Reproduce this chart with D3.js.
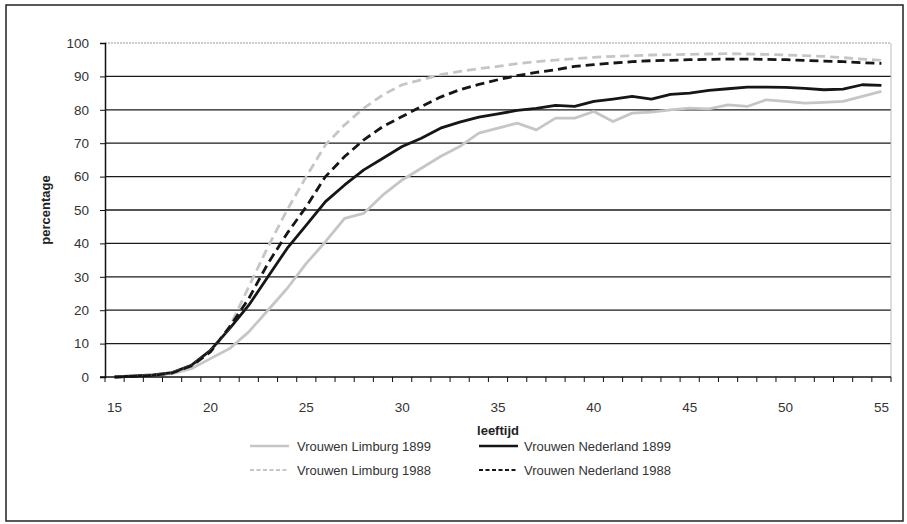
<!DOCTYPE html>
<html>
<head>
<meta charset="utf-8">
<script src="https://cdn.jsdelivr.net/npm/d3@7"></script>
<style>
  html, body { margin: 0; padding: 0; background: #fff; }
  svg text { font-family: "Liberation Sans", Arial, sans-serif; }
</style>
</head>
<body>
<svg id="chart" width="907" height="524"></svg>
<script>
const ages = d3.range(15, 56);
const xTickLabels = [15, 20, 25, 30, 35, 40, 45, 50, 55];
const yTicks = [0, 10, 20, 30, 40, 50, 60, 70, 80, 90, 100];

const limburg1899 = [0, 0.2, 0.5, 1, 2.5, 5.5, 8.5, 13.5, 20, 26.5, 34, 40.5, 47.5, 49, 54.5, 59, 62.5, 66, 69, 73, 74.5, 76, 74, 77.5, 77.5, 79.5, 76.5, 79, 79.3, 80, 80.5, 80.3, 81.5, 81, 83, 82.5, 82, 82.2, 82.5, 84, 85.5];
const nederland1899 = [0, 0.3, 0.6, 1.3, 3.5, 8, 14.5, 21.5, 30, 38.5, 45.5, 52.5, 57.5, 62, 65.5, 69, 71.5, 74.5, 76.3, 77.8, 78.8, 79.8, 80.4, 81.3, 81, 82.5, 83.2, 84, 83.2, 84.6, 85, 85.8, 86.3, 86.8, 86.8, 86.7, 86.4, 86, 86.2, 87.5, 87.3];
const limburg1988 = [0, 0.2, 0.5, 1.2, 3.2, 7.5, 15, 27, 39, 50, 60, 69.5, 75.5, 80.5, 84.5, 87.5, 89, 90.5, 91.5, 92.3, 93, 93.8, 94.4, 94.9, 95.3, 95.7, 96, 96.2, 96.4, 96.5, 96.6, 96.7, 96.8, 96.7, 96.6, 96.4, 96.2, 96, 95.6, 95.2, 94.8];
const nederland1988 = [0, 0.2, 0.5, 1.2, 3.3, 7.5, 15, 23.5, 34, 43, 51, 60, 66, 71, 75, 78, 81, 83.8, 86, 87.6, 89, 90.2, 91.2, 92, 93, 93.5, 94, 94.4, 94.7, 94.8, 95, 95.1, 95.2, 95.2, 95.1, 95, 94.8, 94.6, 94.4, 94.1, 93.9];

const seriesNames = ["Vrouwen Limburg 1899", "Vrouwen Nederland 1899", "Vrouwen Limburg 1988", "Vrouwen Nederland 1988"];
const seriesValues = [limburg1899, nederland1899, limburg1988, nederland1988];
const seriesStyle = [
  { color: "#c6c6c6", dash: null, width: 2.8 },
  { color: "#161616", dash: null, width: 2.8 },
  { color: "#c6c6c6", dash: "9,5", width: 2.8 },
  { color: "#161616", dash: "9,5", width: 2.8 }
];

const svg = d3.select("#chart");
const plotLeft = 105, plotRight = 891, plotTop = 43, plotBottom = 377;

// Outer frame
svg.append("rect").attr("x", 6).attr("y", 5).attr("width", 897).attr("height", 516)
  .attr("fill", "none").attr("stroke", "#222").attr("stroke-width", 1.5);

const x = d3.scaleBand().domain(ages).range([plotLeft, plotRight]);
const y = d3.scaleLinear().domain([0, 100]).range([plotBottom, plotTop]);

// Gridlines
svg.append("g").selectAll("line").data(yTicks.filter(d => d > 0)).join("line")
  .attr("x1", plotLeft).attr("x2", plotRight)
  .attr("y1", d => y(d)).attr("y2", d => y(d))
  .attr("stroke", d => d === 100 ? "#999" : "#1a1a1a")
  .attr("stroke-width", d => d === 100 ? 1 : 1.3)
  .attr("stroke-dasharray", d => d === 100 ? "2,1" : null);

// right border of plot area
svg.append("line").attr("x1", plotRight).attr("x2", plotRight).attr("y1", plotTop).attr("y2", plotBottom)
  .attr("stroke", "#bbb").attr("stroke-width", 1);

// Lines
const line = d3.line().x((d, i) => x(ages[i]) + x.bandwidth() / 2).y(d => y(d));
seriesValues.forEach((vals, k) => {
  const st = seriesStyle[k];
  svg.append("path").datum(vals)
    .attr("fill", "none")
    .attr("stroke", st.color)
    .attr("stroke-width", st.width)
    .attr("stroke-dasharray", st.dash)
    .attr("stroke-linejoin", "round")
    .attr("d", line);
});

// Y axis
const yAxis = d3.axisLeft(y).tickValues(yTicks).tickSize(5).tickPadding(11);
const gy = svg.append("g").attr("transform", `translate(${plotLeft},0)`).call(yAxis);
gy.select(".domain").attr("stroke", "#111").attr("stroke-width", 1.5);
gy.selectAll(".tick line").attr("stroke", "#111");
gy.selectAll("text").attr("font-size", 13.5).attr("fill", "#333")
  .attr("font-family", "'Liberation Sans', Arial, sans-serif");

// X axis: ticks at category boundaries
const gx = svg.append("g").attr("transform", `translate(0,${plotBottom})`);
gx.append("line").attr("x1", plotLeft - 5).attr("x2", plotRight).attr("y1", 0).attr("y2", 0)
  .attr("stroke", "#111").attr("stroke-width", 1.5);
gx.selectAll("line.tk").data(ages.concat([56])).join("line").attr("class", "tk")
  .attr("x1", (d, i) => plotLeft + i * x.step()).attr("x2", (d, i) => plotLeft + i * x.step())
  .attr("y1", 0).attr("y2", 5).attr("stroke", "#111");
gx.selectAll("text").data(xTickLabels).join("text")
  .attr("x", d => x(d) + x.bandwidth() / 2)
  .attr("y", 35)
  .attr("text-anchor", "middle")
  .attr("font-size", 13.5).attr("fill", "#333")
  .text(d => d);

// Axis titles
svg.append("text").attr("transform", "translate(50,210) rotate(-90)")
  .attr("text-anchor", "middle").attr("font-size", 13).attr("font-weight", "bold").attr("fill", "#222")
  .text("percentage");
svg.append("text").attr("x", 498).attr("y", 435)
  .attr("text-anchor", "middle").attr("font-size", 13).attr("font-weight", "bold").attr("fill", "#222")
  .text("leeftijd");

// Legend
const legendPos = [
  { lx: 250, tx: 297, y: 446 },
  { lx: 479, tx: 524, y: 446 },
  { lx: 250, tx: 297, y: 470 },
  { lx: 479, tx: 524, y: 470 }
];
seriesNames.forEach((name, k) => {
  const p = legendPos[k], st = seriesStyle[k];
  svg.append("line").attr("x1", p.lx).attr("x2", p.lx + 39).attr("y1", p.y).attr("y2", p.y)
    .attr("stroke", st.color).attr("stroke-width", st.dash ? 1.8 : 2.6)
    .attr("stroke-dasharray", st.dash ? "4,2.5" : null);
  svg.append("text").attr("x", p.tx).attr("y", p.y + 5)
    .attr("font-size", 13).attr("fill", "#333").text(name);
});
</script>
</body>
</html>
